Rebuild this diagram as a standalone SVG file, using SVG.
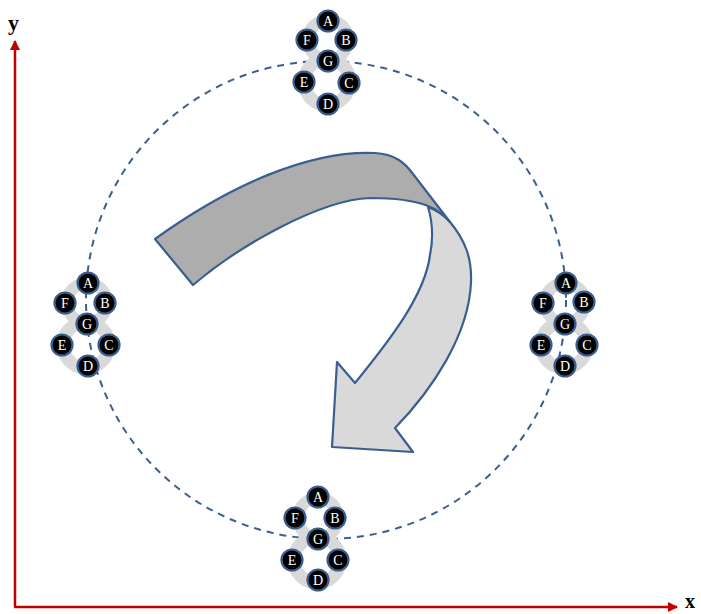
<svg xmlns="http://www.w3.org/2000/svg" xmlns:xlink="http://www.w3.org/1999/xlink" width="701" height="614" viewBox="0 0 701 614">
<style>
.ring{fill:none;stroke:#d9d9d9;}
.nd{fill:#000;stroke:#3a5f8f;stroke-width:2.2;}
.lb{font-family:"Liberation Serif","Times New Roman",serif;font-size:14px;fill:#fff;text-anchor:middle;}
.ax{stroke:#c00000;stroke-width:2.5;fill:none;}
.axl{font-family:"Liberation Serif","Times New Roman",serif;font-size:22px;font-weight:bold;fill:#000;}
.orbit{fill:none;stroke:#3a5f8f;stroke-width:2;stroke-dasharray:7 6;}
.arw{stroke:#3a5f8f;stroke-width:2.2;stroke-linejoin:round;}
</style>
<defs>
<marker id="ah" viewBox="0 0 10 10" refX="9" refY="5" markerWidth="4" markerHeight="4" orient="auto" markerUnits="strokeWidth">
<path d="M0,0 L10,5 L0,10 Z" fill="#c00000"/>
</marker>
<g id="cl">
<circle class="ring" cx="0" cy="-21" r="20" stroke-width="12"/>
<circle class="ring" cx="-1" cy="21" r="23" stroke-width="13"/>
</g>
</defs>

<g id="connectors">
<line class="ax" x1="15" y1="607" x2="15" y2="41" marker-end="url(#ah)"/>
<line class="ax" x1="14" y1="607" x2="677" y2="607" marker-end="url(#ah)"/>
<ellipse class="orbit" cx="326" cy="300" rx="240" ry="239"/>
</g>
<text class="axl" x="8" y="30">y</text>
<text class="axl" x="685" y="608" style="font-size:20px">x</text>

<g id="turn-arrow">
<path class="arw" fill="#d9d9d9" d="M450,222 C465,240 472,258 471,282 C469,335 432,390 395,428 L413,452 L332,447 L337,362 L355,383 C390,340 425,295 430,255 C434,235 432,220 428,207 C438,211 445,216 450,222 Z"/>
<path class="arw" fill="#adadad" d="M155,239 C230,185 310,150 375,153 C395,154 405,163 413,174 L450,222 C440,210 425,198 370,198 C320,200 240,245 193,285 Z"/>
</g>

<g id="cluster-top" transform="translate(328,61)">
<use xlink:href="#cl"/>
<g id="top-A"><circle class="nd" cx="0" cy="-40" r="10.5"/><text class="lb" x="0" y="-35">A</text></g>
<g id="top-F"><circle class="nd" cx="-21" cy="-21" r="10.5"/><text class="lb" x="-21" y="-16">F</text></g>
<g id="top-B"><circle class="nd" cx="18" cy="-21" r="10.5"/><text class="lb" x="18" y="-16">B</text></g>
<g id="top-G"><circle class="nd" cx="0" cy="0" r="10.5"/><text class="lb" x="0" y="5">G</text></g>
<g id="top-E"><circle class="nd" cx="-24" cy="21" r="10.5"/><text class="lb" x="-24" y="26">E</text></g>
<g id="top-C"><circle class="nd" cx="21" cy="22" r="10.5"/><text class="lb" x="21" y="27">C</text></g>
<g id="top-D"><circle class="nd" cx="0" cy="43" r="10.5"/><text class="lb" x="0" y="48">D</text></g>
</g>

<g id="cluster-left" transform="translate(87,324)">
<use xlink:href="#cl"/>
<g id="left-A"><circle class="nd" cx="1" cy="-41" r="10.5"/><text class="lb" x="1" y="-36">A</text></g>
<g id="left-F"><circle class="nd" cx="-22" cy="-21" r="10.5"/><text class="lb" x="-22" y="-16">F</text></g>
<g id="left-B"><circle class="nd" cx="18" cy="-21" r="10.5"/><text class="lb" x="18" y="-16">B</text></g>
<g id="left-G"><circle class="nd" cx="0" cy="0" r="10.5"/><text class="lb" x="0" y="5">G</text></g>
<g id="left-E"><circle class="nd" cx="-25" cy="21" r="10.5"/><text class="lb" x="-25" y="26">E</text></g>
<g id="left-C"><circle class="nd" cx="22" cy="21" r="10.5"/><text class="lb" x="22" y="26">C</text></g>
<g id="left-D"><circle class="nd" cx="1" cy="42" r="10.5"/><text class="lb" x="1" y="47">D</text></g>
</g>

<g id="cluster-right" transform="translate(565,324)">
<use xlink:href="#cl"/>
<g id="right-A"><circle class="nd" cx="1" cy="-41" r="10.5"/><text class="lb" x="1" y="-36">A</text></g>
<g id="right-F"><circle class="nd" cx="-22" cy="-21" r="10.5"/><text class="lb" x="-22" y="-16">F</text></g>
<g id="right-B"><circle class="nd" cx="19" cy="-22" r="10.5"/><text class="lb" x="19" y="-17">B</text></g>
<g id="right-G"><circle class="nd" cx="0" cy="0" r="10.5"/><text class="lb" x="0" y="5">G</text></g>
<g id="right-E"><circle class="nd" cx="-24" cy="21" r="10.5"/><text class="lb" x="-24" y="26">E</text></g>
<g id="right-C"><circle class="nd" cx="22" cy="21" r="10.5"/><text class="lb" x="22" y="26">C</text></g>
<g id="right-D"><circle class="nd" cx="0" cy="42" r="10.5"/><text class="lb" x="0" y="47">D</text></g>
</g>

<g id="cluster-bottom" transform="translate(318,539)">
<use xlink:href="#cl"/>
<g id="bottom-A"><circle class="nd" cx="0" cy="-42" r="10.5"/><text class="lb" x="0" y="-37">A</text></g>
<g id="bottom-F"><circle class="nd" cx="-23" cy="-21" r="10.5"/><text class="lb" x="-23" y="-16">F</text></g>
<g id="bottom-B"><circle class="nd" cx="17" cy="-21" r="10.5"/><text class="lb" x="17" y="-16">B</text></g>
<g id="bottom-G"><circle class="nd" cx="0" cy="0" r="10.5"/><text class="lb" x="0" y="5">G</text></g>
<g id="bottom-E"><circle class="nd" cx="-26" cy="21" r="10.5"/><text class="lb" x="-26" y="26">E</text></g>
<g id="bottom-C"><circle class="nd" cx="20" cy="21" r="10.5"/><text class="lb" x="20" y="26">C</text></g>
<g id="bottom-D"><circle class="nd" cx="0" cy="41" r="10.5"/><text class="lb" x="0" y="46">D</text></g>
</g>
</svg>
